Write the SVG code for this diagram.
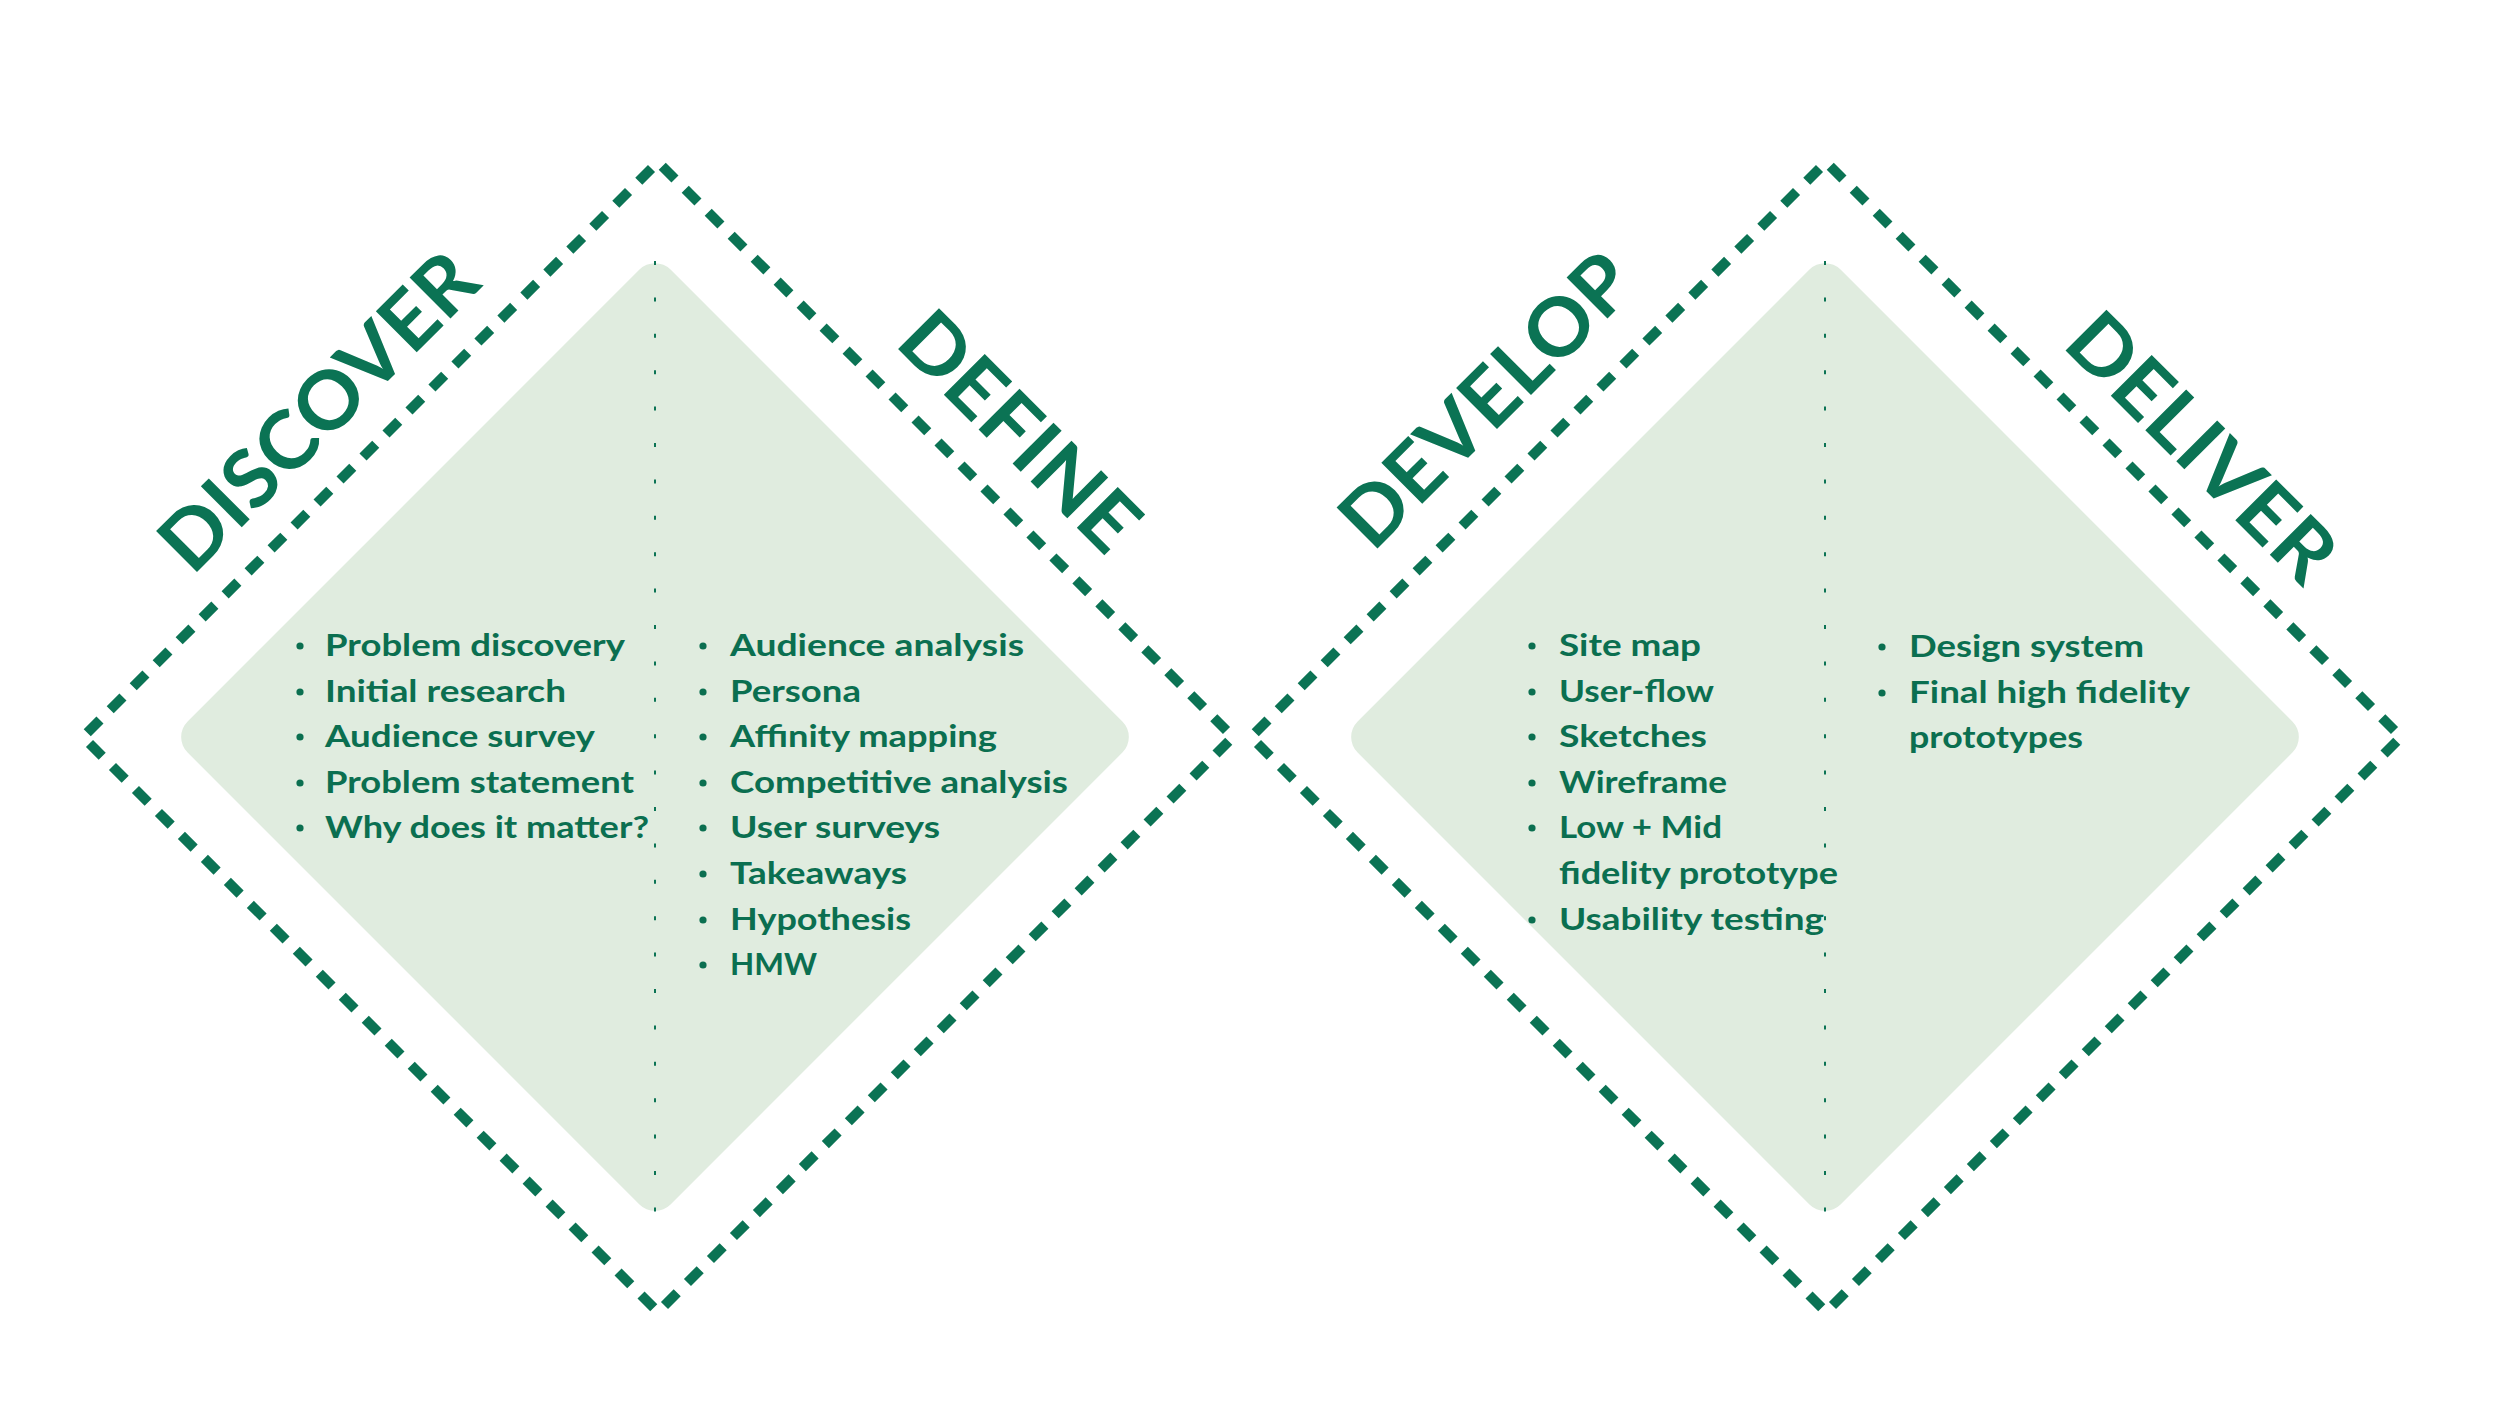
<svg xmlns="http://www.w3.org/2000/svg" width="2500" height="1406" viewBox="0 0 2500 1406">
<style>
.bg{fill:#ffffff}
.fill{fill:#E0ECDF}
.dash{stroke:#0B7354;stroke-width:10;fill:none;stroke-dasharray:18 14.5;stroke-dashoffset:26.5;stroke-linecap:butt}
.dot{stroke:#0B7354;stroke-width:2;fill:none;stroke-dasharray:4 32.4}
.title{font-family:"Lato","Liberation Sans",sans-serif;font-weight:700;font-size:80px;fill:#0B7354}
.item{font-family:"Lato","Liberation Sans",sans-serif;font-weight:700;font-size:31px;fill:#0B6F50}
.bul{fill:#0B6F50}
</style>
<rect class="bg" x="0" y="0" width="2500" height="1406"/>

<g id="connectors">
  <g id="outline-left">
    <line class="dash" x1="658" y1="162" x2="1233" y2="737"/>
    <line class="dash" x1="1233" y1="737" x2="658" y2="1312"/>
    <line class="dash" x1="658" y1="1312" x2="83" y2="737"/>
    <line class="dash" x1="83" y1="737" x2="658" y2="162"/>
  </g>
  <g id="outline-right">
    <line class="dash" x1="1826" y1="162" x2="2401" y2="737"/>
    <line class="dash" x1="2401" y1="737" x2="1826" y2="1312"/>
    <line class="dash" x1="1826" y1="1312" x2="1251" y2="737"/>
    <line class="dash" x1="1251" y1="737" x2="1826" y2="162"/>
  </g>
</g>

<g id="diamond-left">
  <rect class="fill" x="313.5" y="395.5" width="683" height="683" rx="22" transform="rotate(45 655 737)"/>
  <line class="dot" x1="655" y1="261" x2="655" y2="1213"/>
</g>
<g id="diamond-right">
  <rect class="fill" x="1483.5" y="395.5" width="683" height="683" rx="22" transform="rotate(45 1825 737)"/>
  <line class="dot" x1="1825" y1="261" x2="1825" y2="1213"/>
</g>

<g id="title-discover">
  <text class="title" x="338" y="431" text-anchor="middle" textLength="412" lengthAdjust="spacingAndGlyphs" transform="rotate(-45 338 431)">DISCOVER</text>
</g>
<g id="title-define">
  <text class="title" x="1000" y="451" text-anchor="middle" textLength="302" lengthAdjust="spacingAndGlyphs" transform="rotate(45 1000 451)">DEFINE</text>
</g>
<g id="title-develop">
  <text class="title" x="1506" y="420" text-anchor="middle" textLength="377" lengthAdjust="spacingAndGlyphs" transform="rotate(-45 1506 420)">DEVELOP</text>
</g>
<g id="title-deliver">
  <text class="title" x="2182" y="467" text-anchor="middle" textLength="343" lengthAdjust="spacingAndGlyphs" transform="rotate(45 2182 467)">DELIVER</text>
</g>

<g id="list-discover">
  <circle class="bul" cx="300" cy="646" r="3.6"/>
  <circle class="bul" cx="300" cy="692" r="3.6"/>
  <circle class="bul" cx="300" cy="737" r="3.6"/>
  <circle class="bul" cx="300" cy="783" r="3.6"/>
  <circle class="bul" cx="300" cy="828" r="3.6"/>
  <text class="item" x="325" y="656" textLength="300" lengthAdjust="spacingAndGlyphs">Problem discovery</text>
  <text class="item" x="325" y="702" textLength="241" lengthAdjust="spacingAndGlyphs">Initial research</text>
  <text class="item" x="325" y="747" textLength="270" lengthAdjust="spacingAndGlyphs">Audience survey</text>
  <text class="item" x="325" y="793" textLength="309" lengthAdjust="spacingAndGlyphs">Problem statement</text>
  <text class="item" x="325" y="838" textLength="324" lengthAdjust="spacingAndGlyphs">Why does it matter?</text>
</g>

<g id="list-define">
  <circle class="bul" cx="703" cy="646" r="3.6"/>
  <circle class="bul" cx="703" cy="692" r="3.6"/>
  <circle class="bul" cx="703" cy="737" r="3.6"/>
  <circle class="bul" cx="703" cy="783" r="3.6"/>
  <circle class="bul" cx="703" cy="828" r="3.6"/>
  <circle class="bul" cx="703" cy="874" r="3.6"/>
  <circle class="bul" cx="703" cy="920" r="3.6"/>
  <circle class="bul" cx="703" cy="965" r="3.6"/>
  <text class="item" x="730" y="656" textLength="294" lengthAdjust="spacingAndGlyphs">Audience analysis</text>
  <text class="item" x="730" y="702" textLength="131" lengthAdjust="spacingAndGlyphs">Persona</text>
  <text class="item" x="730" y="747" textLength="267" lengthAdjust="spacingAndGlyphs">Affinity mapping</text>
  <text class="item" x="730" y="793" textLength="338" lengthAdjust="spacingAndGlyphs">Competitive analysis</text>
  <text class="item" x="730" y="838" textLength="210" lengthAdjust="spacingAndGlyphs">User surveys</text>
  <text class="item" x="730" y="884" textLength="177" lengthAdjust="spacingAndGlyphs">Takeaways</text>
  <text class="item" x="730" y="930" textLength="181" lengthAdjust="spacingAndGlyphs">Hypothesis</text>
  <text class="item" x="730" y="975" textLength="87" lengthAdjust="spacingAndGlyphs">HMW</text>
</g>

<g id="list-develop">
  <circle class="bul" cx="1532" cy="646" r="3.6"/>
  <circle class="bul" cx="1532" cy="692" r="3.6"/>
  <circle class="bul" cx="1532" cy="737" r="3.6"/>
  <circle class="bul" cx="1532" cy="783" r="3.6"/>
  <circle class="bul" cx="1532" cy="828" r="3.6"/>
  <circle class="bul" cx="1532" cy="920" r="3.6"/>
  <text class="item" x="1559" y="656" textLength="142" lengthAdjust="spacingAndGlyphs">Site map</text>
  <text class="item" x="1559" y="702" textLength="155" lengthAdjust="spacingAndGlyphs">User-flow</text>
  <text class="item" x="1559" y="747" textLength="148" lengthAdjust="spacingAndGlyphs">Sketches</text>
  <text class="item" x="1559" y="793" textLength="168" lengthAdjust="spacingAndGlyphs">Wireframe</text>
  <text class="item" x="1559" y="838" textLength="163" lengthAdjust="spacingAndGlyphs">Low + Mid</text>
  <text class="item" x="1559" y="884" textLength="279" lengthAdjust="spacingAndGlyphs">fidelity prototype</text>
  <text class="item" x="1559" y="930" textLength="265" lengthAdjust="spacingAndGlyphs">Usability testing</text>
</g>

<g id="list-deliver">
  <circle class="bul" cx="1882" cy="647" r="3.6"/>
  <circle class="bul" cx="1882" cy="693" r="3.6"/>
  <text class="item" x="1909" y="657" textLength="235" lengthAdjust="spacingAndGlyphs">Design system</text>
  <text class="item" x="1909" y="703" textLength="281" lengthAdjust="spacingAndGlyphs">Final high fidelity</text>
  <text class="item" x="1909" y="748" textLength="174" lengthAdjust="spacingAndGlyphs">prototypes</text>
</g>
</svg>
